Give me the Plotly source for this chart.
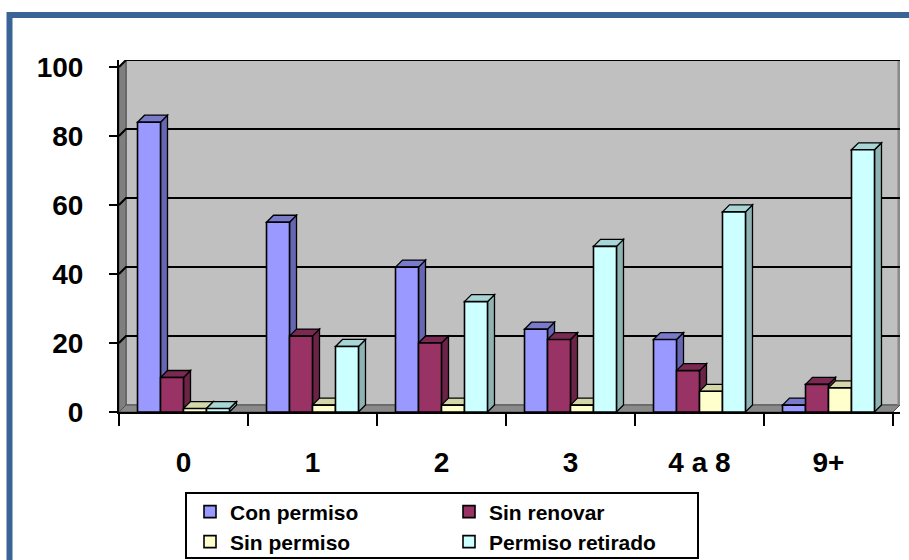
import plotly.graph_objects as go

categories = ["0", "1", "2", "3", "4 a 8", "9+"]
series_names = ["Con permiso", "Sin renovar", "Sin permiso", "Permiso retirado"]
con_permiso = [84, 55, 42, 24, 21, 2]
sin_renovar = [10, 22, 20, 21, 12, 8]
sin_permiso = [1, 2, 2, 2, 6, 7]
permiso_retirado = [1, 19, 32, 48, 58, 76]
y_ticks = [0, 20, 40, 60, 80, 100]

series = [con_permiso, sin_renovar, sin_permiso, permiso_retirado]
front = ["#9999FF", "#993366", "#FFFFCC", "#CCFFFF"]
side = ["#6666B3", "#6B2447", "#B3B38F", "#8FB3B3"]
top = ["#7A7ACC", "#7A2952", "#D6D6AB", "#A8D6D6"]

W, H = 909, 560
ML, MR, MT, MB = 119, 9, 60, 148
PW, PH = W - ML - MR, H - MT - MB
px_per_cat = 129.0
px_per_unit = 3.45
depth_px = 7
dx = depth_px / px_per_cat
dy = depth_px / px_per_unit
x_max = -0.5 + PW / px_per_cat
y_max = 100 + dy
bargap = 0.287
gw = 1 - bargap
bw = gw / len(series)

FONT = "Liberation Sans, Arial, sans-serif"

def px2x(px):
    return (px - ML) / PW

def py2y(py):
    return (H - MB - py) / PH

idx = list(range(len(categories)))
fig = go.Figure()
legend_ids = ["legend", "legend", "legend2", "legend2"]
for i, (name, vals) in enumerate(zip(series_names, series)):
    fig.add_trace(go.Bar(
        x=idx, y=vals, name=name,
        marker=dict(color=front[i], line=dict(color="black", width=1.6)),
        legend=legend_ids[i], hoverinfo="skip",
    ))

shapes = []
# back wall, side wall, floor
shapes.append(dict(type="rect", xref="x", yref="y", x0=-0.5 + dx, x1=5.5 + dx, y0=dy, y1=100 + dy,
                   fillcolor="#C0C0C0", line=dict(color="#707070", width=1.5), layer="below"))
shapes.append(dict(type="path", xref="x", yref="y",
                   path=f"M -0.5,0 L {-0.5+dx},{dy} L {-0.5+dx},{100+dy} L -0.5,100 Z",
                   fillcolor="#7F7F7F", line=dict(color="#505050", width=1), layer="below"))
shapes.append(dict(type="path", xref="x", yref="y",
                   path=f"M -0.5,0 L 5.5,0 L {5.5+dx},{dy} L {-0.5+dx},{dy} Z",
                   fillcolor="#8A8A8A", line=dict(color="#505050", width=1), layer="below"))
shapes.append(dict(type="rect", xref="x", yref="y", x0=5.5 + dx - 0.02, x1=5.5 + dx, y0=dy, y1=100 + dy,
                   fillcolor="#8A8A8A", line=dict(width=0), layer="below"))
for v in y_ticks[1:]:
    shapes.append(dict(type="path", xref="x", yref="y",
                       path=f"M -0.5,{v} L {-0.5+dx},{v+dy} L {5.5+dx},{v+dy}",
                       line=dict(color="black", width=2), layer="below"))

# 3D faces of each bar
for i, vals in enumerate(series):
    for c, v in zip(idx, vals):
        xl = c - gw / 2 + i * bw
        xr = xl + bw
        shapes.append(dict(type="path", xref="x", yref="y",
                           path=f"M {xr},0 L {xr+dx},{dy} L {xr+dx},{v+dy} L {xr},{v} Z",
                           fillcolor=side[i], line=dict(color="black", width=1.3), layer="between"))
        shapes.append(dict(type="path", xref="x", yref="y",
                           path=f"M {xl},{v} L {xl+dx},{v+dy} L {xr+dx},{v+dy} L {xr},{v} Z",
                           fillcolor=top[i], line=dict(color="black", width=1.3), layer="between"))

# outer blue frame
shapes.append(dict(type="rect", xref="paper", yref="paper",
                   x0=px2x(9.5), x1=px2x(1000), y0=py2y(15), y1=py2y(700),
                   fillcolor="rgba(0,0,0,0)", line=dict(color="#3A6496", width=6), layer="above"))
# legend box
shapes.append(dict(type="rect", xref="paper", yref="paper",
                   x0=px2x(186), x1=px2x(698), y0=py2y(493), y1=py2y(558),
                   fillcolor="rgba(0,0,0,0)", line=dict(color="black", width=2), layer="above"))

leg_common = dict(orientation="h", xanchor="left", yanchor="middle", bgcolor="rgba(0,0,0,0)",
                  font=dict(family=FONT, size=21, color="black", weight="bold"),
                  entrywidth=214, entrywidthmode="pixels", itemclick=False, itemdoubleclick=False,
                  traceorder="normal", tracegroupgap=0)

fig.update_layout(
    width=W, height=H,
    margin=dict(l=ML, r=MR, t=MT, b=MB, pad=0, autoexpand=False),
    paper_bgcolor="white", plot_bgcolor="white",
    barmode="group", bargap=bargap, bargroupgap=0,
    showlegend=True,
    legend=dict(x=px2x(190), y=py2y(512), **leg_common),
    legend2=dict(x=px2x(190), y=py2y(542), **leg_common),
    shapes=shapes,
    xaxis=dict(
        range=[-0.5, x_max], tickmode="array", tickvals=idx, ticktext=categories,
        showgrid=False, zeroline=False, showline=True, linecolor="black", linewidth=2,
        ticks="", ticklabelstandoff=24, automargin=False,
        tickfont=dict(family=FONT, size=28, color="black", weight="bold"),
        minor=dict(tickmode="array", tickvals=[c - 0.5 for c in idx] + [idx[-1] + 0.5],
                   ticks="outside", ticklen=12, tickwidth=2, tickcolor="black", showgrid=False),
        fixedrange=True,
    ),
    yaxis=dict(
        range=[0, y_max], tickmode="array", tickvals=y_ticks,
        showgrid=False, zeroline=False, showline=True, linecolor="black", linewidth=2,
        ticks="outside", ticklen=8, tickwidth=2, tickcolor="black", ticklabelstandoff=20,
        automargin=False,
        tickfont=dict(family=FONT, size=28, color="black", weight="bold"),
        fixedrange=True,
    ),
)

fig.write_html("out.html")
